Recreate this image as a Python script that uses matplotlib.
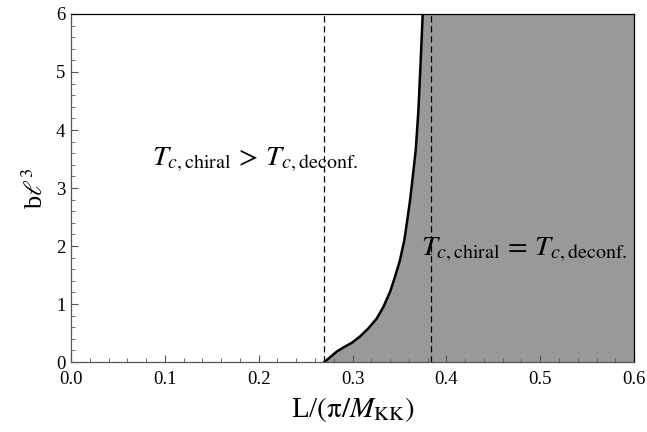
import numpy as np
import matplotlib.pyplot as plt
from matplotlib.ticker import MultipleLocator

plt.rcParams['font.family'] = ['Liberation Serif', 'DejaVu Serif']
plt.rcParams['mathtext.fontset'] = 'stix'

# boundary curve: L/(pi/M_KK) vs b l^3
curve_L = [0.270, 0.276, 0.2832, 0.2902, 0.2991, 0.308, 0.3169, 0.3258,
           0.3329, 0.340, 0.3453, 0.3506, 0.3552, 0.3590, 0.3613, 0.3634,
           0.3674, 0.3702, 0.3727, 0.3748]
curve_b = [0.0, 0.08, 0.18, 0.25, 0.33, 0.44, 0.58, 0.75,
           0.95, 1.21, 1.47, 1.76, 2.10, 2.52, 2.79, 3.08,
           3.66, 4.34, 5.21, 6.0]

# dashed reference lines
dashed_L = [0.270, 0.3837]

x_max = 0.6
y_max = 6

fig = plt.figure(figsize=(6.47, 4.32), dpi=100)
ax = fig.add_axes([0.1097, 0.162, 0.8703, 0.8056])

# shaded region right of the curve
ax.fill_betweenx(curve_b, curve_L, x_max, color='#999999', lw=0)
ax.plot(curve_L, curve_b, color='black', lw=1.8, solid_joinstyle='round')

for xl in dashed_L:
    ax.plot([xl, xl], [0, y_max], color='black', lw=0.9, ls=(0, (5, 3)))

ax.set_xlim(0, x_max)
ax.set_ylim(0, y_max)

ax.xaxis.set_major_locator(MultipleLocator(0.1))
ax.xaxis.set_minor_locator(MultipleLocator(0.02))
ax.yaxis.set_major_locator(MultipleLocator(1))
ax.yaxis.set_minor_locator(MultipleLocator(0.2))
ax.xaxis.set_major_formatter(plt.FuncFormatter(lambda v, p: f'{v:.1f}'))

ax.tick_params(which='both', direction='in', top=False, right=False,
               color='#555555', labelsize=13.5)
ax.tick_params(axis='x', pad=6.5)
ax.tick_params(axis='y', pad=4)
ax.tick_params(which='major', length=5, width=0.8)
ax.tick_params(which='minor', length=3, width=0.6)

for s in ['left', 'bottom']:
    ax.spines[s].set_color('#555555')
for s in ['top', 'right']:
    ax.spines[s].set_color('black')
for s in ax.spines.values():
    s.set_linewidth(0.9)

ax.set_xlabel(r'L/$(\mathrm{\pi}/M_{\mathrm{KK}})$', fontsize=21, labelpad=5)
ax.set_ylabel(r'b$\ell^3$', fontsize=19, labelpad=6)

ax.text(0.086, 3.48, r'$T_{c,\mathrm{chiral}}\,>\,T_{c,\mathrm{deconf.}}$',
        fontsize=20.5, va='center', ha='left')
ax.text(0.373, 1.93, r'$T_{c,\mathrm{chiral}}\,=\,T_{c,\mathrm{deconf.}}$',
        fontsize=20.5, va='center', ha='left')

fig.savefig('out.png', dpi=100)
